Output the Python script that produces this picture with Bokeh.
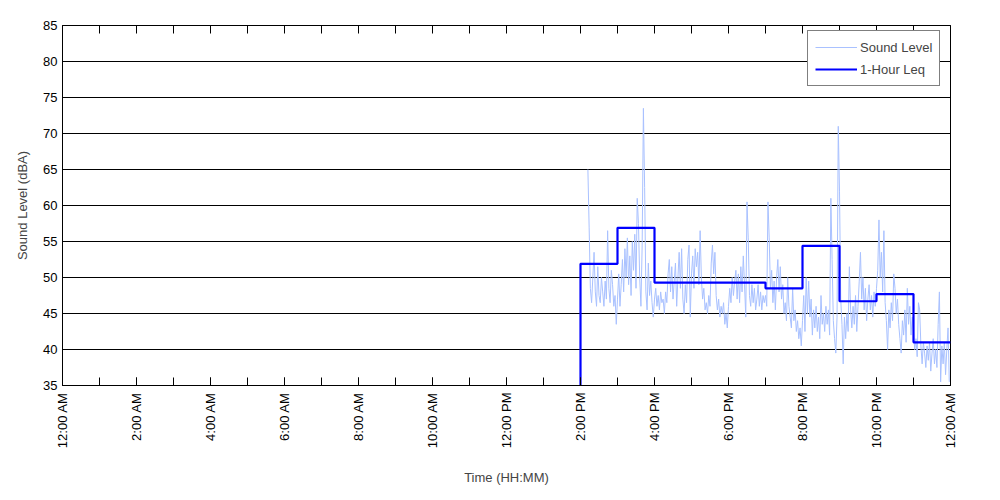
from bokeh.plotting import figure
from bokeh.models import (FixedTicker, LinearAxis, Legend, LegendItem)
from bokeh.embed import file_html
from bokeh.resources import INLINE
import math

# ---------------- data ----------------
x_tick_hours = [0, 2, 4, 6, 8, 10, 12, 14, 16, 18, 20, 22, 24]
x_tick_labels = ["12:00 AM", "2:00 AM", "4:00 AM", "6:00 AM", "8:00 AM", "10:00 AM",
                 "12:00 PM", "2:00 PM", "4:00 PM", "6:00 PM", "8:00 PM", "10:00 PM", "12:00 AM"]
x_minor_hours = list(range(0, 25))
y_ticks = [35, 40, 45, 50, 55, 60, 65, 70, 75, 80, 85]

# Sound level, 2-minute samples, first sample at 14:12
sample_start_hour = 14.2
sample_step_hours = 2.0 / 60.0
level_14 = [65.0, 57.0, 48.5, 46.5, 50.0, 53.5, 48.0, 46.0, 51.5, 47.5, 46.5, 50.0,
            48.0, 46.0, 49.5, 47.0, 56.5, 48.5, 46.5, 51.0, 49.0, 46.0, 47.5, 43.5]
level_15 = [47.0, 50.5, 46.0, 49.0, 52.5, 48.0, 54.0, 50.0, 55.5, 49.0, 53.0, 47.5,
            55.0, 51.0, 56.0, 48.5, 61.0, 57.5, 50.0, 46.0, 54.5, 73.5, 62.5, 48.0,
            45.5, 52.0, 47.5, 49.5, 46.5, 44.5]
level_16 = [47.0, 48.5, 46.0, 47.5, 45.5, 48.0, 46.5, 47.0, 45.0, 48.0, 46.5, 50.5,
            52.5, 48.0, 51.5, 47.0, 49.5, 52.0, 46.0, 50.0, 53.5, 48.5, 54.0, 47.0,
            45.0, 49.0, 46.5, 52.5, 54.5, 44.5]
level_17 = [50.5, 53.0, 48.5, 54.0, 51.5, 53.5, 49.0, 56.5, 50.0, 47.0, 48.5, 45.5,
            46.5, 45.0, 47.5, 46.0, 52.0, 54.5, 50.5, 53.5, 47.5, 45.5, 47.0, 44.5,
            46.0, 45.0, 46.5, 43.5, 45.0, 43.0]
level_18 = [46.0, 48.5, 46.5, 50.0, 47.5, 49.5, 51.0, 47.0, 50.5, 46.5, 51.5, 48.0,
            53.0, 49.0, 44.5, 60.5, 55.5, 47.5, 46.0, 49.0, 46.5, 48.5, 45.5, 47.0,
            49.0, 46.0, 48.0, 45.5, 47.5, 46.5]
level_19 = [47.5, 46.0, 60.5, 55.5, 48.5, 51.0, 46.5, 49.5, 45.5, 50.0, 52.5, 48.0,
            51.5, 47.0, 49.0, 45.0, 46.5, 44.0, 50.0, 46.0, 44.5, 43.0, 48.5, 44.0,
            45.5, 42.5, 44.0, 41.5, 43.0, 40.5]
level_20 = [44.0, 47.5, 42.5, 50.0, 45.0, 49.5, 44.5, 47.0, 42.0, 45.5, 43.0, 46.0,
            42.5, 44.5, 41.5, 47.5, 43.5, 45.0, 42.5, 46.0, 43.5, 45.5, 42.0, 61.0,
            52.5, 44.0, 41.5, 39.5, 44.5, 71.0]
level_21 = [62.0, 47.0, 43.5, 38.0, 44.5, 41.5, 45.0, 42.5, 51.5, 45.5, 43.0, 46.0,
            43.5, 47.5, 42.5, 46.0, 49.5, 53.5, 47.0, 50.0, 45.5, 48.5, 44.0, 47.0,
            49.0, 45.5, 47.5, 44.5, 48.0, 46.0]
level_22 = [48.5, 51.0, 58.0, 50.0, 53.5, 48.0, 56.5, 46.5, 44.0, 40.0, 45.5, 43.0,
            46.5, 44.0, 50.5, 48.5, 45.0, 47.0, 43.5, 41.5, 39.5, 44.0, 42.0, 45.5,
            41.0, 48.5, 43.5, 46.0, 42.0, 44.5]
level_23 = [42.5, 40.0, 41.5, 39.0, 46.5, 45.5, 40.5, 38.0, 41.0, 39.5, 37.5, 40.5,
            38.5, 41.0, 37.0, 39.5, 41.5, 38.0, 40.0, 37.5, 43.5, 48.0, 35.5, 40.5,
            38.0, 41.0, 36.5, 40.0, 43.0, 35.5]

# 1-hour Leq, value holds from the listed hour to the next
leq_hours = [13, 14, 15, 16, 17, 18, 19, 20, 21, 22, 23]
leq_values = [0.0, 51.9, 56.9, 49.3, 49.3, 49.3, 48.5, 54.4, 46.7, 47.7, 41.0]

# ---------------- build ----------------
sound_level = (level_14 + level_15 + level_16 + level_17 + level_18 +
               level_19 + level_20 + level_21 + level_22 + level_23)
sound_time = [sample_start_hour + i * sample_step_hours for i in range(len(sound_level))]

leq_x = leq_hours + [leq_hours[-1] + 1]
leq_y = leq_values + [leq_values[-1]]

FONT = "Liberation Sans"

p = figure(width=984, height=490, x_range=(0, 24), y_range=(35, 85),
           output_backend="svg", toolbar_location=None,
           min_border_left=62, min_border_top=25, min_border_right=34, min_border_bottom=105)

p.outline_line_color = "black"
p.outline_line_width = 1
p.background_fill_color = "white"
p.border_fill_color = "white"

r_sound = p.line(sound_time, sound_level, line_color="#a9c1ff", line_width=1)
r_leq = p.step(leq_x, leq_y, mode="after", line_color="#0000ff", line_width=2.2)

# grids
p.xgrid.visible = False
p.ygrid.ticker = FixedTicker(ticks=y_ticks)
p.ygrid.grid_line_color = "black"
p.ygrid.grid_line_width = 1
p.ygrid.grid_line_alpha = 1

# x axis (bottom)
xa = p.xaxis[0]
xa.ticker = FixedTicker(ticks=x_tick_hours, minor_ticks=x_minor_hours)
xa.major_label_overrides = {h: lab for h, lab in zip(x_tick_hours, x_tick_labels)}
xa.major_label_orientation = math.pi / 2
xa.major_tick_in = 8
xa.major_tick_out = 0
xa.minor_tick_in = 8
xa.minor_tick_out = 0
xa.major_label_standoff = 7
xa.major_label_text_font = FONT
xa.major_label_text_font_size = "13px"
xa.major_label_text_color = "black"
xa.axis_label = "Time (HH:MM)"
xa.axis_label_text_font = FONT
xa.axis_label_text_font_size = "13px"
xa.axis_label_text_font_style = "normal"
xa.axis_label_standoff = 19
xa.axis_line_color = "black"

# top axis: tick marks only (minor ticks at every hour, no labels)
ta = LinearAxis(ticker=FixedTicker(ticks=[], minor_ticks=x_minor_hours))
ta.major_tick_in = 0
ta.major_tick_out = 0
ta.minor_tick_in = 8
ta.minor_tick_out = 0
ta.major_label_standoff = 0
ta.axis_line_color = "black"
p.add_layout(ta, "above")

# y axis
ya = p.yaxis[0]
ya.ticker = FixedTicker(ticks=y_ticks)
ya.major_tick_in = 0
ya.major_tick_out = 0
ya.minor_tick_in = 0
ya.minor_tick_out = 0
ya.major_label_standoff = 5
ya.major_label_text_font = FONT
ya.major_label_text_font_size = "13px"
ya.major_label_text_color = "black"
ya.axis_label = "Sound Level (dBA)"
ya.axis_label_text_font = FONT
ya.axis_label_text_font_size = "13px"
ya.axis_label_text_font_style = "normal"
ya.axis_label_standoff = 10
ya.axis_line_color = "black"

legend = Legend(items=[LegendItem(label="Sound Level", renderers=[r_sound]),
                       LegendItem(label="1-Hour Leq", renderers=[r_leq])],
                location=(745, 299))
legend.border_line_color = "black"
legend.border_line_width = 1
legend.background_fill_color = "white"
legend.background_fill_alpha = 1
legend.label_text_font = FONT
legend.label_text_font_size = "13px"
legend.glyph_width = 42
legend.glyph_height = 18
legend.label_height = 18
legend.label_standoff = 3
legend.padding = 7
legend.spacing = 4
legend.margin = 0
p.add_layout(legend, "center")

open("out.html", "w").write(file_html(p, INLINE))
